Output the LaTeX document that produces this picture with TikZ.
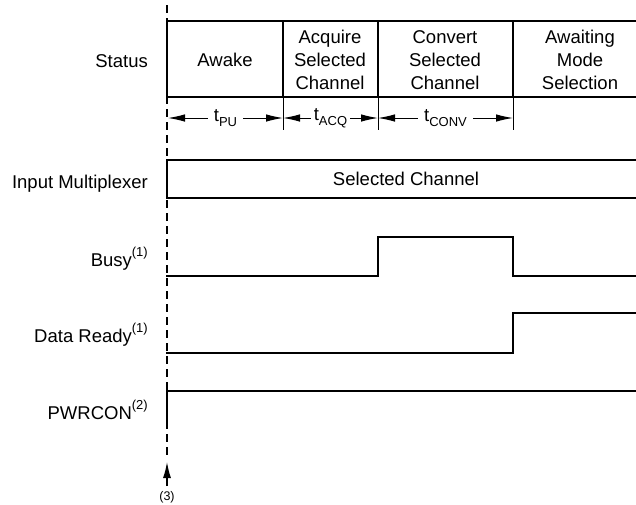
\documentclass[tikz,border=0pt]{standalone}
\usepackage{fontspec}
\setmainfont{Liberation Sans}
\usetikzlibrary{arrows.meta}
\newcommand\mysup[1]{\raisebox{0.5em}{\fontsize{13}{13}\selectfont #1}}
\newcommand\mysub[1]{\raisebox{-0.27em}{\fontsize{13}{13}\selectfont #1}}
\begin{document}
\begin{tikzpicture}[x=1pt,y=-1pt,
  lbl/.style={anchor=base east, inner sep=0pt, font=\fontsize{18.5}{22}\selectfont},
  boxtxt/.style={align=center, inner sep=0pt, font=\fontsize{18.5}{23}\selectfont},
  sig/.style={line width=2.8pt, line join=miter, line cap=rect},
  divline/.style={line width=2.2pt},
  tickline/.style={line width=1pt},
  dimarrow/.style={line width=1pt, {Latex[length=17pt,width=7.5pt]}-{Latex[length=17pt,width=7.5pt]}},
  tlabel/.style={fill=white, inner xsep=6pt, inner ysep=1pt, font=\fontsize{18.5}{22}\selectfont},
  refline/.style={line width=2.5pt, dash pattern=on 8pt off 5pt},
  notetxt/.style={inner sep=0pt, font=\fontsize{12.5}{14}\selectfont}
]
\useasboundingbox[fill=white] (0,0) rectangle (636,504);

% reference (dashed) line and marker arrow
\coordinate (dTop) at (167,5);
\coordinate (dBot) at (167,459);
\draw[refline] (dTop) -- (dBot);
\coordinate (aTail) at (167,486);
\coordinate (aTip) at (167,462);
\draw[line width=1.3pt, -{Latex[length=16pt,width=8pt]}] (aTail) -- (aTip);
\node[notetxt] (n3) at (167,497) {(3)};

% row labels
\node[lbl] (lStatus) at (148,67) {Status};
\node[lbl] (lMux) at (148,188) {Input Multiplexer};
\node[lbl] (lBusy) at (148,266) {Busy\mysup{(1)}};
\node[lbl] (lDR) at (148,342) {Data Ready\mysup{(1)}};
\node[lbl] (lPwr) at (148,419) {PWRCON\mysup{(2)}};

% status box
\coordinate (sTL) at (167,21);
\coordinate (sTR) at (640,21);
\coordinate (sBL) at (167,97);
\coordinate (sBR) at (640,97);
\draw[sig] (sTR) -- (sTL) -- (sBL) -- (sBR);
\foreach \xx/\nm in {283/a,378/b,513/c}{
  \coordinate (d\nm1) at (\xx,21);
  \coordinate (d\nm2) at (\xx,97);
  \coordinate (d\nm3) at (\xx,130);
  \draw[divline] (d\nm1) -- (d\nm2);
  \draw[tickline] (d\nm2) -- (d\nm3);
}
\node[boxtxt] (tAwake) at (225,60) {Awake};
\node[boxtxt] (tAcq) at (330,60) {Acquire\\Selected\\Channel};
\node[boxtxt] (tConv) at (445,60) {Convert\\Selected\\Channel};
\node[boxtxt] (tAwait) at (580,60) {Awaiting\\Mode\\Selection};

% time intervals
\coordinate (p0) at (168,118);
\coordinate (p1) at (283,118);
\coordinate (p2) at (378,118);
\coordinate (p3) at (513,118);
\draw[dimarrow] (p0) -- node[tlabel] (tpu) {t\mysub{PU}} (p1);
\draw[dimarrow] (p1) -- node[tlabel, inner xsep=3pt] (tacq) {t\mysub{ACQ}} (p2);
\draw[dimarrow] (p2) -- node[tlabel] (tconv) {t\mysub{CONV}} (p3);

% input multiplexer
\coordinate (mTL) at (167,160);
\coordinate (mTR) at (640,160);
\coordinate (mBL) at (167,198);
\coordinate (mBR) at (640,198);
\draw[sig] (mTR) -- (mTL) -- (mBL) -- (mBR);
\node[boxtxt] (tSel) at (406,179) {Selected Channel};

% busy
\coordinate (b0) at (167,276);
\coordinate (b1) at (378,276);
\coordinate (b2) at (378,237);
\coordinate (b3) at (513,237);
\coordinate (b4) at (513,276);
\coordinate (b5) at (640,276);
\draw[sig] (b0) -- (b1) -- (b2) -- (b3) -- (b4) -- (b5);

% data ready
\coordinate (r0) at (167,353);
\coordinate (r1) at (513,353);
\coordinate (r2) at (513,313);
\coordinate (r3) at (640,313);
\draw[sig] (r0) -- (r1) -- (r2) -- (r3);

% pwrcon
\coordinate (w0) at (167,428);
\coordinate (w1) at (167,391);
\coordinate (w2) at (640,391);
\draw[sig] (w0) -- (w1) -- (w2);
\end{tikzpicture}
\end{document}
